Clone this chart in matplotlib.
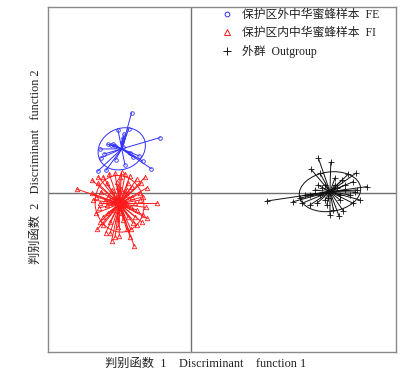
import numpy as np
import matplotlib
matplotlib.use("Agg")
import matplotlib.pyplot as plt
from matplotlib.patches import Ellipse
from matplotlib.lines import Line2D

plt.rcParams['font.family'] = ['Liberation Serif', 'Noto Sans CJK SC']

# --- data (discriminant scores) ---
fe_x = [-2.97, -1.55, -3.12, -3.34, -3.42, -3.47, -4.17, -4.02, -3.89, -3.79, -4.55, -4.34,
        -4.52, -2.59, -2.42, -1.99, -2.89, -3.77, -3.05, -3.39, -4.67, -4.25, -3.30, -3.65]
fe_y = [4.02, 2.77, 3.19, 2.94, 2.74, 2.57, 2.44, 2.40, 2.44, 2.37, 2.20, 1.95,
        1.75, 1.85, 1.60, 1.22, 1.80, 1.67, 1.99, 2.32, 1.09, 1.14, 1.40, 3.15]

fi_x = [-5.72, -4.95, -4.67, -4.39, -4.09, -3.80, -3.47, -3.29, -3.05, -2.72, -2.50, -2.30,
        -2.19, -2.54, -2.42, -1.69, -2.27, -2.19, -2.39, -2.72, -3.02, -3.22, -2.85, -3.59,
        -3.80, -3.97, -4.27, -4.69, -4.55, -4.75, -4.89, -4.95, -4.77, -4.62, -4.39, -4.05,
        -3.39, -3.14, -2.72, -2.79, -2.97, -3.22, -3.64, -3.97, -4.14, -4.22, -3.89, -3.47,
        -3.14, -4.22, -4.52, -3.72, -2.97, -2.55, -2.80, -3.64, -4.14, -4.55, -3.39, -3.72,
        -3.47, -4.05, -3.05, -2.47, -4.64, -3.55, -3.25, -3.89,
        -3.30, -3.60, -3.90, -3.20, -3.50, -4.30, -3.00, -3.70, -2.90, -4.40]
fi_y = [0.20, 0.64, 0.49, 0.82, 0.95, 0.99, 1.05, 0.95, 0.87, 0.69, 0.49, 0.79,
        0.27, -0.02, -0.19, -0.52, -0.72, -1.27, -1.10, -1.60, -1.79, -1.82, -2.64, -2.14,
        -2.22, -2.39, -1.99, -1.82, -1.44, -1.02, -0.35, -0.02, -0.19, -0.74, -1.19, -1.44,
        -1.35, -1.19, -0.85, -0.52, -0.19, 0.15, 0.32, 0.15, -0.19, -0.60, -0.85, -1.02,
        0.49, 0.49, 0.07, 0.57, 0.32, -0.35, -1.19, -1.69, -1.02, -0.52, -0.35, -0.19,
        -0.77, -2.02, -2.19, -1.44, 0.82, 0.82, -0.52, -0.52,
        -0.60, -0.90, -0.30, -0.10, 0.20, -0.40, -0.70, -1.30, -1.50, -1.60]

og_x = [6.37, 6.99, 6.00, 6.45, 7.87, 8.24, 8.12, 8.82, 8.29, 8.45, 8.12, 7.62, 7.40, 7.12,
        6.79, 6.29, 5.95, 5.54, 5.09, 3.79, 6.70, 7.20, 7.45, 7.70, 6.45, 6.20, 7.45, 7.95,
        6.70, 5.95, 7.20, 7.70, 6.85, 7.30, 6.55, 5.70, 7.55, 6.35, 8.20, 5.45, 6.95]
og_y = [1.74, 1.54, 1.19, 0.99, 0.95, 0.99, 0.57, 0.32, 0.15, -0.35, -0.52, -0.90, -1.15, -0.85,
        -0.60, -0.52, -0.60, -0.52, -0.44, -0.40, 0.40, 0.40, -0.10, 0.15, -0.10, 0.15, -0.35, -0.10,
        -0.35, -0.10, 0.75, 0.40, -0.25, 0.25, 0.25, -0.10, 0.65, 0.40, 0.05, -0.25, -1.10]

labels = ['保护区外中华蜜蜂样本  FE', '保护区内中华蜜蜂样本  FI', '外群  Outgroup']

fig = plt.figure(figsize=(4.19, 3.76), dpi=100)
ax = fig.add_axes([48/419, 1-352/376, 348/419, 345/376])
ax.set_xlim(-7.15, 10.25)
ax.set_ylim(-7.95, 9.3)
ax.set_xticks([]); ax.set_yticks([])
for s in ax.spines.values():
    s.set_color('#8a8a8a'); s.set_linewidth(1.0)
ax.axhline(0, color='#707070', lw=1.0, zorder=1)
ax.axvline(0, color='#707070', lw=1.0, zorder=1)

groups = [
    (fe_x, fe_y, '#3030ff', 'o', 2.6),
    (fi_x, fi_y, '#ff1a1a', '^', 3.2),
    (og_x, og_y, '#111111', '+', 5.0),
]
handles = []
for (gx, gy, col, mk, ms), lab in zip(groups, labels):
    gx = np.asarray(gx); gy = np.asarray(gy)
    cx, cy = gx.mean(), gy.mean()
    for px, py in zip(gx, gy):
        ax.plot([cx, px], [cy, py], color=col, lw=0.7, zorder=2)
    ax.plot(gx, gy, linestyle='none', marker=mk, markersize=ms, markerfacecolor='none',
            markeredgecolor=col, markeredgewidth=0.6, zorder=3)
    cov = np.cov(gx, gy, bias=True)
    vals, vecs = np.linalg.eigh(cov)
    ang = np.degrees(np.arctan2(vecs[1, 1], vecs[0, 1]))
    e = Ellipse((cx, cy), 2*1.5*np.sqrt(vals[1]), 2*1.5*np.sqrt(vals[0]), angle=ang,
                fill=False, edgecolor=col, lw=0.7, zorder=2)
    ax.add_patch(e)
    handles.append(Line2D([], [], linestyle='none', marker=mk, markersize=ms + 0.8,
                          markerfacecolor='none', markeredgecolor=col, markeredgewidth=0.7, label=lab))

leg = fig.legend(handles=handles, loc='upper left', bbox_to_anchor=(221/419, 1-9/376),
                 frameon=False, fontsize=8.5, handlelength=1.0, handletextpad=0.78,
                 labelspacing=0.5, borderpad=0, borderaxespad=0)
for t in leg.get_texts():
    t.set_color('#222222')

fig.text(206/419, 1-364/376, '判别函数  1    Discriminant    function 1', ha='center', va='center',
         fontsize=8.8, color='#222222')
fig.text(36/419, 1-167/376, '判别函数  2   Discriminant   function 2', ha='center', va='center',
         rotation=90, fontsize=8.8, color='#222222')

fig.savefig('out.png', dpi=100)
